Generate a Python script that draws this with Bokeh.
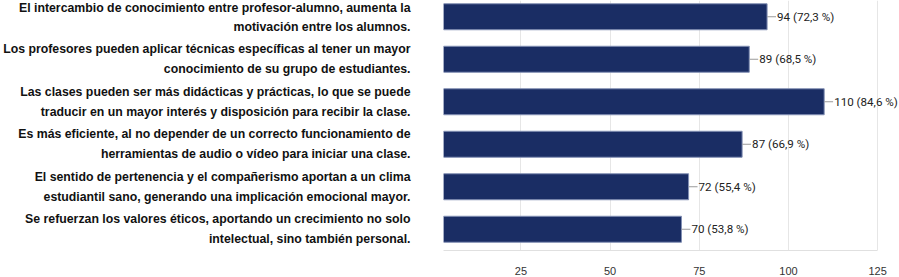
from bokeh.plotting import figure
from bokeh.models import ColumnDataSource, LabelSet, Range1d, FixedTicker
from bokeh.core.properties import value
from bokeh.embed import file_html
from bokeh.resources import INLINE

statements = [
    "El intercambio de conocimiento entre profesor-alumno, aumenta la\nmotivación entre los alumnos.",
    "Los profesores pueden aplicar técnicas específicas al tener un mayor\nconocimiento de su grupo de estudiantes.",
    "Las clases pueden ser más didácticas y prácticas, lo que se puede\ntraducir en un mayor interés y disposición para recibir la clase.",
    "Es más eficiente, al no depender de un correcto funcionamiento de\nherramientas de audio o vídeo para iniciar una clase.",
    "El sentido de pertenencia y el compañerismo aportan a un clima\nestudiantil sano, generando una implicación emocional mayor.",
    "Se refuerzan los valores éticos, aportando un crecimiento no solo\nintelectual, sino también personal.",
]
counts = [94, 89, 110, 87, 72, 70]
percents = ["72,3", "68,5", "84,6", "66,9", "55,4", "53,8"]
x_ticks = [25, 50, 75, 100, 125]

n = len(statements)
rows = list(range(n - 1, -1, -1))
texts = [f"{c} ({p} %)" for c, p in zip(counts, percents)]

W, H = 899, 277
left_b, right_b, top_b, bottom_b = 439, 0, 0, 27
frame_w = W - left_b - right_b
frame_h = H - top_b - bottom_b
x0, x_last = 3.3, 125
ppu = (877 - left_b) / (x_last - x0)
x1 = x0 + frame_w / ppu
row_px = 42.5
y_end = -0.5 + frame_h / row_px

src = ColumnDataSource(dict(
    y=rows, v=counts, t=texts,
    lead=[c + 9 / ppu for c in counts],
))

p = figure(width=W, height=H, output_backend="svg", toolbar_location=None,
           x_range=Range1d(x0, x1), y_range=Range1d(-0.5, y_end),
           min_border_left=left_b, min_border_right=right_b,
           min_border_top=top_b, min_border_bottom=bottom_b)
p.outline_line_color = None
p.background_fill_color = "white"

p.hbar(y="y", left=0, right="v", height=26 / row_px, source=src,
       fill_color="#1a2d64", line_color="#8390b4", line_width=1)
p.segment(x0="v", y0="y", x1="lead", y1="y", source=src,
          line_color="#9a9a9a", line_width=1)
labels = LabelSet(x="v", y="y", text="t", source=src, x_offset=10,
                  text_baseline="middle", text_align="left",
                  text_font=value("Roboto"),
                  text_font_size="11.6px",
                  text_color="#222222")
p.add_layout(labels)

p.xaxis.ticker = FixedTicker(ticks=x_ticks)
p.xaxis.bounds = (x0, x_last)
p.xaxis.major_tick_line_color = None
p.xaxis.minor_tick_line_color = None
p.xaxis.axis_line_color = "#e0e0e0"
p.xaxis.major_label_text_font = "Liberation Sans"
p.xaxis.major_label_text_font_size = "11px"
p.xaxis.major_label_text_color = "#333333"
p.xaxis.major_label_standoff = 10

p.yaxis.ticker = FixedTicker(ticks=rows)
p.yaxis.major_label_overrides = {r: s for r, s in zip(rows, statements)}
p.yaxis.major_tick_line_color = None
p.yaxis.minor_tick_line_color = None
p.yaxis.axis_line_color = None
p.yaxis.major_label_text_font = "Liberation Sans"
p.yaxis.major_label_text_font_style = "bold"
p.yaxis.major_label_text_font_size = "12.3px"
p.yaxis.major_label_text_color = "#111111"
p.yaxis.major_label_text_line_height = 1.4
p.yaxis.major_label_standoff = 27

p.xgrid.grid_line_color = "#e6e6e6"
p.xgrid.ticker = FixedTicker(ticks=x_ticks)
p.ygrid.grid_line_color = None

open("out.html", "w").write(file_html(p, INLINE))
